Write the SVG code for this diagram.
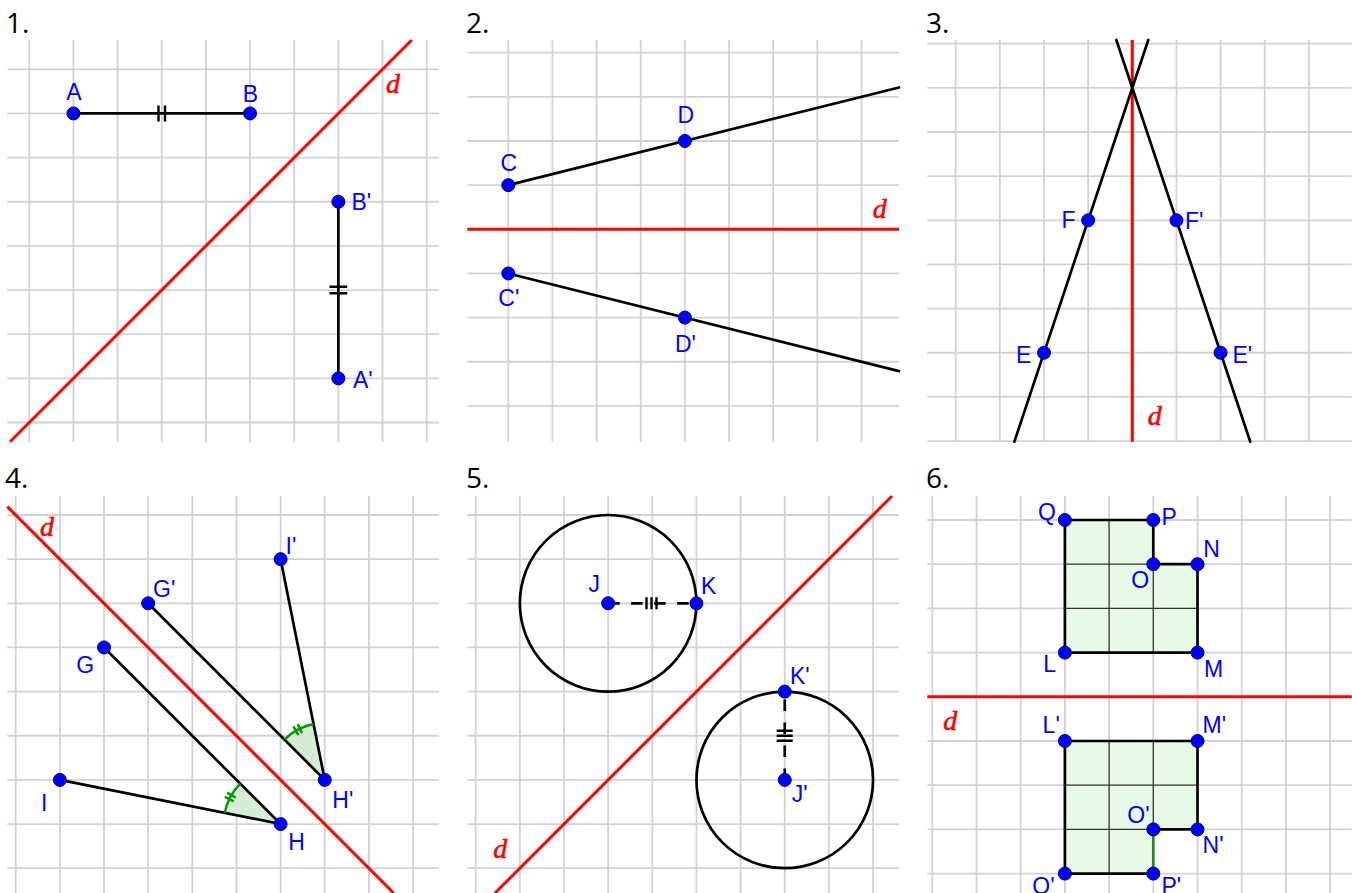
<svg xmlns="http://www.w3.org/2000/svg" width="1352" height="893" viewBox="0 0 1352 893">
<style>
.grid{stroke:#d2d2d2;stroke-width:1.8;fill:none}
.axis{stroke:#ff0000;stroke-width:3;fill:none}
.seg{stroke:#000;stroke-width:2.7;fill:none;stroke-linecap:round}
.dash{stroke:#000;stroke-width:2.7;fill:none;stroke-dasharray:11.5 11.5}
.tick{stroke:#000;stroke-width:2.4;fill:none}
.pt{fill:#0000ff;stroke:#00006e;stroke-width:1}
.lbl{font-family:"Liberation Sans",Arial,sans-serif;font-size:23px;fill:#0000ff}
.num{font-family:"Open Sans","Liberation Sans",sans-serif;font-size:28px;fill:#000}
.d{font-family:"Liberation Serif","Times New Roman",serif;font-style:italic;font-size:28px;fill:#ff0000;stroke:#ff0000;stroke-width:0.6}
.shape{fill:#e6fae6}
.ang{fill:#d4ecd4}
.arc{stroke:#009a00;stroke-width:2.5;fill:none}
.inner{stroke:#333;stroke-width:1.3;fill:none}
.gseg{stroke:#1f8a1f;stroke-width:2.7;fill:none}
</style>
<rect width="1352" height="893" fill="#fff"/>

<!-- Panel 1 -->
<g id="panel1">
<text class="num" x="6" y="32.7">1.</text>
<path class="grid" d="M29.3 40V441.7M73.45 40V441.7M117.6 40V441.7M161.75 40V441.7M205.9 40V441.7M250.05 40V441.7M294.2 40V441.7M338.35 40V441.7M382.5 40V441.7M426.65 40V441.7M7.3 69.3H439M7.3 113.45H439M7.3 157.6H439M7.3 201.75H439M7.3 245.9H439M7.3 290.05H439M7.3 334.2H439M7.3 378.35H439M7.3 422.5H439"/>
<g id="d1"><path class="axis" d="M411.8 40L10.1 441.7"/><text class="d" x="386" y="93">d</text></g>
<g id="connectors1">
<path class="seg" d="M73.45 113.45H250.05M338.35 201.75V378.35"/>
<path class="tick" d="M158.5 105.5V121.5M165 105.5V121.5M329.5 286.8H347.2M329.5 293.3H347.2"/>
</g>
<g id="A"><circle class="pt" cx="73.45" cy="113.45" r="6.5"/><text class="lbl" x="74" y="99.5" text-anchor="middle">A</text></g>
<g id="B"><circle class="pt" cx="250.05" cy="113.45" r="6.5"/><text class="lbl" x="250.5" y="101.5" text-anchor="middle">B</text></g>
<g id="B1"><circle class="pt" cx="338.35" cy="201.75" r="6.5"/><text class="lbl" x="351.5" y="209.5">B'</text></g>
<g id="A1"><circle class="pt" cx="338.35" cy="378.35" r="6.5"/><text class="lbl" x="353" y="387.7">A'</text></g>
</g>

<!-- Panel 2 -->
<g id="panel2">
<text class="num" x="466" y="32.7">2.</text>
<path class="grid" d="M508.3 40V441.7M552.45 40V441.7M596.6 40V441.7M640.75 40V441.7M684.9 40V441.7M729.05 40V441.7M773.2 40V441.7M817.35 40V441.7M861.5 40V441.7M467.3 52.7H899M467.3 96.85H899M467.3 141H899M467.3 185.15H899M467.3 229.3H899M467.3 273.45H899M467.3 317.6H899M467.3 361.75H899M467.3 405.9H899"/>
<g id="d2"><path class="axis" d="M467.3 229.3H899"/><text class="d" x="872.7" y="218">d</text></g>
<g id="connectors2">
<path class="seg" d="M508.3 185.15L899 87.475M508.3 273.45L899 371.1"/>
</g>
<g id="C"><circle class="pt" cx="508.3" cy="185.15" r="6.5"/><text class="lbl" x="508.7" y="170.7" text-anchor="middle">C</text></g>
<g id="D"><circle class="pt" cx="684.9" cy="141" r="6.5"/><text class="lbl" x="685.7" y="122.7" text-anchor="middle">D</text></g>
<g id="C1"><circle class="pt" cx="508.3" cy="273.45" r="6.5"/><text class="lbl" x="498.3" y="306">C'</text></g>
<g id="D1"><circle class="pt" cx="684.9" cy="317.6" r="6.5"/><text class="lbl" x="675" y="351.7">D'</text></g>
</g>

<!-- Panel 3 -->
<g id="panel3">
<text class="num" x="926" y="32.7">3.</text>
<path class="grid" d="M955.7 40V441.7M999.85 40V441.7M1044 40V441.7M1088.15 40V441.7M1132.3 40V441.7M1176.45 40V441.7M1220.6 40V441.7M1264.75 40V441.7M1308.9 40V441.7M927.3 43.7H1351.7M927.3 87.85H1351.7M927.3 132H1351.7M927.3 176.15H1351.7M927.3 220.3H1351.7M927.3 264.45H1351.7M927.3 308.6H1351.7M927.3 352.75H1351.7M927.3 396.9H1351.7M927.3 441.05H1351.7"/>
<g id="d3"><path class="axis" d="M1132.3 40V441.7"/><text class="d" x="1147.7" y="425">d</text></g>
<g id="connectors3">
<path class="seg" d="M1148.25 40L1014.35 441.7M1116.35 40L1250.25 441.7"/>
</g>
<g id="F"><circle class="pt" cx="1088.15" cy="220.3" r="6.5"/><text class="lbl" x="1061.5" y="228.3">F</text></g>
<g id="F1"><circle class="pt" cx="1176.45" cy="220.3" r="6.5"/><text class="lbl" x="1185" y="228.8">F'</text></g>
<g id="E"><circle class="pt" cx="1044" cy="352.75" r="6.5"/><text class="lbl" x="1016" y="362.7">E</text></g>
<g id="E1"><circle class="pt" cx="1220.6" cy="352.75" r="6.5"/><text class="lbl" x="1232.5" y="362.7">E'</text></g>
</g>

<!-- Panel 4 -->
<g id="panel4">
<text class="num" x="5" y="488.3">4.</text>
<path class="grid" d="M15.7 496V893M59.85 496V893M104 496V893M148.15 496V893M192.3 496V893M236.45 496V893M280.6 496V893M324.75 496V893M368.9 496V893M413.05 496V893M7.3 515H439M7.3 559.15H439M7.3 603.3H439M7.3 647.45H439M7.3 691.6H439M7.3 735.75H439M7.3 779.9H439M7.3 824.05H439M7.3 868.2H439"/>
<g id="d4"><path class="axis" d="M7.3 506.6L393.7 893"/><text class="d" x="40" y="536">d</text></g>
<g id="angles4">
<path class="ang" d="M280.6 824.05L224.71 812.87A57 57 0 0 1 240.29 783.74Z"/>
<path class="ang" d="M324.75 779.9L284.44 739.59A57 57 0 0 1 313.57 724.01Z"/>
</g>
<g id="connectors4">
<path class="seg" d="M280.6 559.15L324.75 779.9M148.15 603.3L324.75 779.9M104 647.45L280.6 824.05M59.85 779.9L280.6 824.05"/>
<path class="arc" d="M224.71 812.87A57 57 0 0 1 240.29 783.74M284.44 739.59A57 57 0 0 1 313.57 724.01"/>
<path class="arc" d="M233.82 801.34L224.82 796.97M235.75 797.74L227.12 792.68M298.44 735.05L293.38 726.42M302.04 733.12L297.67 724.12"/>
</g>
<g id="I1"><circle class="pt" cx="280.6" cy="559.15" r="6.5"/><text class="lbl" x="285.5" y="554">I'</text></g>
<g id="G1"><circle class="pt" cx="148.15" cy="603.3" r="6.5"/><text class="lbl" x="153" y="596.7">G'</text></g>
<g id="G"><circle class="pt" cx="104" cy="647.45" r="6.5"/><text class="lbl" x="76.3" y="673.3">G</text></g>
<g id="I"><circle class="pt" cx="59.85" cy="779.9" r="6.5"/><text class="lbl" x="41" y="810.7">I</text></g>
<g id="H"><circle class="pt" cx="280.6" cy="824.05" r="6.5"/><text class="lbl" x="288.3" y="850">H</text></g>
<g id="H1"><circle class="pt" cx="324.75" cy="779.9" r="6.5"/><text class="lbl" x="332.3" y="808.3">H'</text></g>
</g>

<!-- Panel 5 -->
<g id="panel5">
<text class="num" x="466" y="488.3">5.</text>
<path class="grid" d="M475.7 496V893M519.85 496V893M564 496V893M608.15 496V893M652.3 496V893M696.45 496V893M740.6 496V893M784.75 496V893M828.9 496V893M873.05 496V893M467.3 515H899M467.3 559.15H899M467.3 603.3H899M467.3 647.45H899M467.3 691.6H899M467.3 735.75H899M467.3 779.9H899M467.3 824.05H899M467.3 868.2H899"/>
<g id="d5"><path class="axis" d="M892.05 496L495.05 893"/><text class="d" x="493.3" y="858">d</text></g>
<g id="connectors5">
<circle class="seg" cx="608.15" cy="603.3" r="88.3"/>
<circle class="seg" cx="784.75" cy="779.9" r="88.3"/>
<path class="dash" d="M608.15 603.3H696.45"/>
<path class="dash" d="M784.75 779.9V691.6"/>
<path class="tick" d="M646.5 597.3V609.3M651.5 597.3V609.3M656.5 597.3V609.3M776.7 730.75H792.7M776.7 735.75H792.7M776.7 740.75H792.7"/>
</g>
<g id="J"><circle class="pt" cx="608.15" cy="603.3" r="6.5"/><text class="lbl" x="588.5" y="591.7">J</text></g>
<g id="K"><circle class="pt" cx="696.45" cy="603.3" r="6.5"/><text class="lbl" x="701" y="594">K</text></g>
<g id="K1"><circle class="pt" cx="784.75" cy="691.6" r="6.5"/><text class="lbl" x="790" y="684">K'</text></g>
<g id="J1"><circle class="pt" cx="784.75" cy="779.9" r="6.5"/><text class="lbl" x="791.8" y="801.7">J'</text></g>
</g>

<!-- Panel 6 -->
<g id="panel6">
<text class="num" x="926" y="488.3">6.</text>
<path class="grid" d="M932.3 496V893M976.5 496V893M1020.7 496V893M1064.9 496V893M1109.1 496V893M1153.3 496V893M1197.5 496V893M1241.7 496V893M1285.9 496V893M1330.1 496V893M927.3 520H1351.7M927.3 564.2H1351.7M927.3 608.4H1351.7M927.3 652.6H1351.7M927.3 696.8H1351.7M927.3 741H1351.7M927.3 785.2H1351.7M927.3 829.4H1351.7M927.3 873.6H1351.7"/>
<g id="d6"><path class="axis" d="M927.3 696.8H1351.7"/><text class="d" x="943.3" y="730">d</text></g>
<g id="shape-upper">
<path class="shape" d="M1064.9 520H1153.3V564.2H1197.5V652.6H1064.9Z"/>
<path class="inner" d="M1109.1 520V652.6M1153.3 564.2V652.6M1064.9 564.2H1153.3M1064.9 608.4H1197.5"/>
</g>
<g id="shape-lower">
<path class="shape" d="M1064.9 741H1197.5V829.4H1153.3V873.6H1064.9Z"/>
<path class="inner" d="M1109.1 741V873.6M1153.3 741V829.4M1064.9 785.2H1197.5M1064.9 829.4H1153.3"/>
</g>
<g id="connectors6">
<path class="seg" d="M1064.9 520H1153.3V564.2H1197.5V652.6H1064.9Z"/>
<path class="seg" d="M1153.3 873.6H1064.9V741H1197.5V829.4H1153.3"/>
<path class="gseg" d="M1153.3 829.4V873.6"/>
</g>
<g id="Q"><circle class="pt" cx="1064.9" cy="520" r="6.5"/><text class="lbl" x="1038" y="520">Q</text></g>
<g id="P"><circle class="pt" cx="1153.3" cy="520" r="6.5"/><text class="lbl" x="1161.5" y="525">P</text></g>
<g id="O"><circle class="pt" cx="1153.3" cy="564.2" r="6.5"/><text class="lbl" x="1131.3" y="587.7">O</text></g>
<g id="N"><circle class="pt" cx="1197.5" cy="564.2" r="6.5"/><text class="lbl" x="1203.3" y="556.7">N</text></g>
<g id="M"><circle class="pt" cx="1197.5" cy="652.6" r="6.5"/><text class="lbl" x="1204" y="676.7">M</text></g>
<g id="L"><circle class="pt" cx="1064.9" cy="652.6" r="6.5"/><text class="lbl" x="1043.3" y="671.7">L</text></g>
<g id="L1"><circle class="pt" cx="1064.9" cy="741" r="6.5"/><text class="lbl" x="1042.6" y="732.7">L'</text></g>
<g id="M1"><circle class="pt" cx="1197.5" cy="741" r="6.5"/><text class="lbl" x="1202.6" y="733.3">M'</text></g>
<g id="N1"><circle class="pt" cx="1197.5" cy="829.4" r="6.5"/><text class="lbl" x="1202.6" y="852.7">N'</text></g>
<g id="O1"><circle class="pt" cx="1153.3" cy="829.4" r="6.5"/><text class="lbl" x="1127.3" y="822.7">O'</text></g>
<g id="P1"><circle class="pt" cx="1153.3" cy="873.6" r="6.5"/><text class="lbl" x="1161.5" y="893.5">P'</text></g>
<g id="Q1"><circle class="pt" cx="1064.9" cy="873.6" r="6.5"/><text class="lbl" x="1032.3" y="893.5">Q'</text></g>
</g>
</svg>
